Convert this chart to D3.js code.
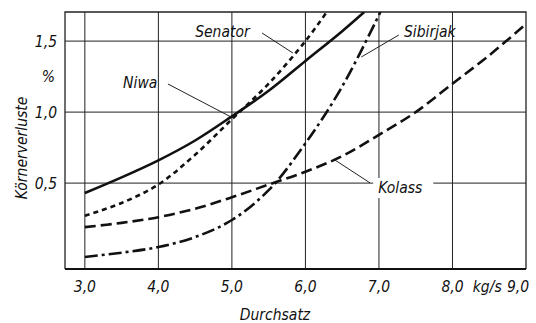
<!DOCTYPE html>
<html>
<head>
<meta charset="utf-8">
<script src="https://cdn.jsdelivr.net/npm/d3@7"></script>
<style>
  body { margin: 0; background: #fff; }
  text { font-family: "DejaVu Sans Condensed", "DejaVu Sans", sans-serif; font-style: oblique; font-size: 15.5px; fill: #111; }
</style>
</head>
<body>
<div id="chart"></div>
<script>
// Körnerverluste über Durchsatz

const width = 536,
    height = 323,
    margin = ({ top: 12, right: 10, bottom: 54, left: 65 });

// data
const xTicks = [3, 4, 5, 6, 7, 8, 9];
const xTickLabels = ["3,0", "4,0", "5,0", "6,0", "7,0", "8,0", "9,0"];
const yTicks = [0.5, 1.0, 1.5];
const yTickLabels = ["0,5", "1,0", "1,5"];

const niwaX = [3.0, 3.5, 4.0, 4.5, 5.0, 5.5, 6.0, 6.5, 6.8];
const niwaY = [0.43, 0.54, 0.66, 0.80, 0.97, 1.15, 1.36, 1.57, 1.705];

const senatorX = [3.0, 3.5, 4.0, 4.5, 5.0, 5.5, 6.0, 6.29];
const senatorY = [0.27, 0.36, 0.49, 0.70, 0.95, 1.20, 1.50, 1.705];

const kolassX = [3.0, 3.5, 4.0, 4.5, 5.0, 5.5, 6.0, 6.5, 7.0, 7.5, 8.0, 8.5, 9.0];
const kolassY = [0.19, 0.22, 0.26, 0.32, 0.40, 0.49, 0.58, 0.69, 0.84, 1.00, 1.20, 1.40, 1.62];

const sibirjakX = [3.0, 3.5, 4.0, 4.5, 5.0, 5.5, 6.0, 6.5, 7.02];
const sibirjakY = [-0.02, 0.01, 0.05, 0.12, 0.24, 0.45, 0.78, 1.18, 1.705];

const series = [
    { name: "Niwa", xs: niwaX, ys: niwaY, dash: null,
      label: [3.52, 1.17], leader: [[4.13, 1.198], [4.99, 0.965]] },
    { name: "Senator", xs: senatorX, ys: senatorY, dash: "5,4",
      label: [4.50, 1.529], leader: [[5.41, 1.557], [5.83, 1.416]] },
    { name: "Sibirjak", xs: sibirjakX, ys: sibirjakY, dash: "13,4,3,4",
      label: [7.34, 1.529], leader: [[7.27, 1.543], [6.76, 1.388]] },
    { name: "Kolass", xs: kolassX, ys: kolassY, dash: "11,5",
      label: [6.99, 0.43], leader: [[6.88, 0.501], [6.40, 0.663]], knockout: true }
];

const svg = d3.select("#chart")
    .append("svg")
    .attr("width", width)
    .attr("height", height)
    .attr("viewBox", [0, 0, width, height]);

const x = d3.scaleLinear()
    .domain([2.73, 9.0])
    .range([margin.left, width - margin.right]);

const y = d3.scaleLinear()
    .domain([-0.105, 1.705])
    .range([height - margin.bottom, margin.top]);

svg.append("clipPath")
    .attr("id", "plot")
  .append("rect")
    .attr("x", margin.left)
    .attr("y", margin.top)
    .attr("width", width - margin.right - margin.left)
    .attr("height", height - margin.bottom - margin.top);

// grid
svg.append("g")
    .selectAll("line")
    .data(xTicks.slice(0, -1))
    .join("line")
    .attr("x1", d => x(d)).attr("x2", d => x(d))
    .attr("y1", margin.top).attr("y2", height - margin.bottom)
    .attr("stroke", "#222").attr("stroke-width", 1);

svg.append("g")
    .selectAll("line")
    .data(yTicks)
    .join("line")
    .attr("x1", margin.left).attr("x2", width - margin.right)
    .attr("y1", d => y(d)).attr("y2", d => y(d))
    .attr("stroke", "#222").attr("stroke-width", 1);

// frame
svg.append("path")
    .attr("d", `M${margin.left},${height - margin.bottom}V${margin.top}H${width - margin.right}V${height - margin.bottom}`)
    .attr("fill", "none")
    .attr("stroke", "#222")
    .attr("stroke-width", 1.3);

svg.append("line")
    .attr("x1", margin.left).attr("x2", width - margin.right)
    .attr("y1", height - margin.bottom).attr("y2", height - margin.bottom)
    .attr("stroke", "#111")
    .attr("stroke-width", 2);

// tick labels
svg.append("g")
    .selectAll("text")
    .data(xTicks)
    .join("text")
    .attr("x", (d, i) => x(d) - (i === xTicks.length - 1 ? 8 : 0))
    .attr("y", height - margin.bottom + 23)
    .attr("text-anchor", "middle")
    .text((d, i) => xTickLabels[i]);

svg.append("g")
    .selectAll("text")
    .data(yTicks)
    .join("text")
    .attr("x", margin.left - 8)
    .attr("y", d => y(d) + 5.5)
    .attr("text-anchor", "end")
    .text((d, i) => yTickLabels[i]);

svg.append("text")
    .attr("x", margin.left - 10)
    .attr("y", y(1.25) + 5.5)
    .attr("text-anchor", "end")
    .text("%");

svg.append("text")
    .attr("x", (x(8) + x(9)) / 2 - 2)
    .attr("y", height - margin.bottom + 23)
    .attr("text-anchor", "middle")
    .text("kg/s");

// axis titles
svg.append("text")
    .attr("x", 275)
    .attr("y", height - 3)
    .attr("text-anchor", "middle")
    .text("Durchsatz");

svg.append("text")
    .attr("transform", `translate(27,${148}) rotate(-90)`)
    .attr("text-anchor", "middle")
    .text("Körnerverluste");

// curves
const line = d3.line()
    .x(d => x(d[0]))
    .y(d => y(d[1]))
    .curve(d3.curveCatmullRom.alpha(0.5));

svg.append("g")
    .attr("clip-path", "url(#plot)")
    .selectAll("path")
    .data(series)
    .join("path")
    .attr("d", s => line(s.xs.map((v, i) => [v, s.ys[i]])))
    .attr("fill", "none")
    .attr("stroke", "#111")
    .attr("stroke-width", 2.6)
    .attr("stroke-dasharray", s => s.dash);

// leaders + labels
svg.append("g")
    .selectAll("line")
    .data(series)
    .join("line")
    .attr("x1", s => x(s.leader[0][0])).attr("y1", s => y(s.leader[0][1]))
    .attr("x2", s => x(s.leader[1][0])).attr("y2", s => y(s.leader[1][1]))
    .attr("stroke", "#222")
    .attr("stroke-width", 1);

const labels = svg.append("g")
    .selectAll("g")
    .data(series)
    .join("g");

labels.each(function (s) {
    const g = d3.select(this);
    const t = g.append("text")
        .attr("x", x(s.label[0]))
        .attr("y", y(s.label[1]))
        .text(s.name);
    if (s.knockout) { // white patch under the label, hides grid lines
        const b = t.node().getBBox();
        g.insert("rect", "text")
            .attr("x", b.x - 5).attr("y", b.y - 1)
            .attr("width", b.width + 16).attr("height", b.height + 2)
            .attr("fill", "#fff");
    }
});
</script>
</body>
</html>
